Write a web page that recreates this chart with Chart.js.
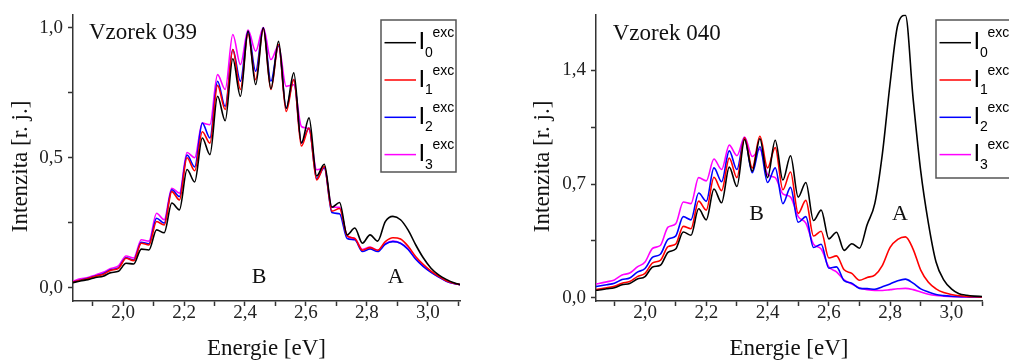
<!DOCTYPE html>
<html>
<head>
<meta charset="utf-8">
<script src="https://cdn.jsdelivr.net/npm/chart.js@4.4.1/dist/chart.umd.min.js"></script>
<style>
  html, body { margin: 0; padding: 0; background: #fff; }
  #wrap { position: relative; width: 1009px; height: 360px; overflow: hidden; }
  .panel { position: absolute; top: 0; height: 360px; }
</style>
</head>
<body>
<div id="wrap">
  <div class="panel" style="left:0;width:505px"><canvas id="c039" width="505" height="360"></canvas></div>
  <div class="panel" style="left:505px;width:504px"><canvas id="c040" width="504" height="360"></canvas></div>
</div>
<script>
// ---- data ----
var seriesNames = ['I0 exc', 'I1 exc', 'I2 exc', 'I3 exc'];
var seriesSub = ['0', '1', '2', '3'];
var seriesColors = ['#000000', '#ff0000', '#0000ff', '#ff00ff'];

// Vzorek 039
var energy039 = [1.835, 1.86, 1.885, 1.91, 1.935, 1.96, 1.985, 2.01, 2.035, 2.06, 2.085, 2.11, 2.135,
  2.16, 2.185, 2.21, 2.235, 2.26, 2.285, 2.31, 2.335, 2.36, 2.385, 2.41, 2.435, 2.46, 2.485,
  2.51, 2.535, 2.56, 2.585, 2.61, 2.635, 2.66, 2.685, 2.71, 2.735, 2.76, 2.785, 2.81, 2.835,
  2.86, 2.885, 2.91, 2.935, 2.96, 2.985, 3.01, 3.035, 3.06, 3.085, 3.11];
var i0_039 = [0.020, 0.027, 0.032, 0.040, 0.045, 0.059, 0.064, 0.095, 0.092, 0.149, 0.146, 0.223, 0.212,
  0.326, 0.300, 0.455, 0.407, 0.576, 0.512, 0.736, 0.642, 0.880, 0.736, 0.986, 0.781, 0.999, 0.765,
  0.947, 0.690, 0.826, 0.557, 0.653, 0.430, 0.475, 0.310, 0.328, 0.204, 0.230, 0.172, 0.204, 0.180,
  0.255, 0.275, 0.262, 0.222, 0.165, 0.115, 0.076, 0.050, 0.033, 0.020, 0.012];
var i1_039 = [0.022, 0.030, 0.036, 0.045, 0.052, 0.068, 0.075, 0.114, 0.105, 0.172, 0.165, 0.255, 0.242,
  0.370, 0.338, 0.500, 0.450, 0.600, 0.556, 0.778, 0.685, 0.915, 0.762, 0.975, 0.800, 0.995, 0.762,
  0.935, 0.678, 0.800, 0.545, 0.614, 0.415, 0.467, 0.295, 0.305, 0.200, 0.190, 0.145, 0.155, 0.145,
  0.178, 0.193, 0.188, 0.160, 0.120, 0.090, 0.065, 0.045, 0.028, 0.018, 0.012];
var i2_039 = [0.022, 0.030, 0.037, 0.046, 0.055, 0.070, 0.077, 0.116, 0.107, 0.175, 0.170, 0.268, 0.249,
  0.377, 0.351, 0.510, 0.465, 0.633, 0.576, 0.794, 0.697, 0.915, 0.794, 0.985, 0.832, 0.998, 0.794,
  0.930, 0.690, 0.800, 0.557, 0.614, 0.420, 0.462, 0.290, 0.285, 0.190, 0.185, 0.140, 0.150, 0.140,
  0.168, 0.178, 0.172, 0.148, 0.110, 0.082, 0.060, 0.042, 0.026, 0.017, 0.012];
var i3_039 = [0.026, 0.035, 0.040, 0.050, 0.060, 0.075, 0.085, 0.123, 0.115, 0.185, 0.180, 0.287, 0.262,
  0.383, 0.364, 0.520, 0.500, 0.633, 0.627, 0.819, 0.762, 0.973, 0.858, 0.990, 0.909, 1.000, 0.877,
  0.930, 0.774, 0.780, 0.620, 0.610, 0.454, 0.460, 0.310, 0.310, 0.200, 0.190, 0.148, 0.157, 0.145,
  0.170, 0.180, 0.172, 0.150, 0.112, 0.085, 0.062, 0.043, 0.027, 0.017, 0.012];

// Vzorek 040
var energy040 = [1.825, 1.85, 1.875, 1.90, 1.925, 1.95, 1.975, 2.00, 2.025, 2.05, 2.075, 2.10, 2.125,
  2.15, 2.175, 2.20, 2.225, 2.25, 2.275, 2.30, 2.325, 2.35, 2.375, 2.40, 2.425, 2.45, 2.475,
  2.50, 2.525, 2.55, 2.575, 2.60, 2.625, 2.65, 2.675, 2.70, 2.725, 2.75, 2.775, 2.80, 2.825,
  2.85, 2.875, 2.90, 2.925, 2.95, 2.975, 3.00, 3.025, 3.05, 3.075, 3.10];
var i0_040 = [0.043, 0.048, 0.055, 0.062, 0.080, 0.088, 0.115, 0.130, 0.190, 0.200, 0.280, 0.300, 0.405,
  0.385, 0.548, 0.480, 0.670, 0.585, 0.805, 0.685, 0.975, 0.780, 0.980, 0.740, 0.970, 0.725, 0.875,
  0.620, 0.710, 0.476, 0.540, 0.363, 0.404, 0.292, 0.333, 0.305, 0.450, 0.580, 0.890, 1.320, 1.680,
  1.740, 1.230, 0.780, 0.460, 0.220, 0.110, 0.055, 0.025, 0.015, 0.010, 0.008];
var i1_040 = [0.048, 0.053, 0.062, 0.070, 0.090, 0.100, 0.130, 0.150, 0.215, 0.230, 0.315, 0.330, 0.440,
  0.425, 0.595, 0.540, 0.742, 0.660, 0.860, 0.740, 0.985, 0.800, 0.995, 0.800, 0.925, 0.665, 0.775,
  0.520, 0.600, 0.380, 0.410, 0.245, 0.258, 0.172, 0.150, 0.108, 0.125, 0.140, 0.200, 0.310, 0.360,
  0.375, 0.300, 0.170, 0.095, 0.055, 0.032, 0.020, 0.012, 0.008, 0.006, 0.005];
var i2_040 = [0.065, 0.072, 0.080, 0.090, 0.112, 0.122, 0.158, 0.180, 0.250, 0.268, 0.360, 0.380, 0.500,
  0.480, 0.645, 0.595, 0.800, 0.715, 0.905, 0.790, 0.985, 0.770, 0.930, 0.710, 0.800, 0.580, 0.680,
  0.465, 0.500, 0.310, 0.330, 0.182, 0.190, 0.105, 0.090, 0.058, 0.056, 0.052, 0.068, 0.085, 0.105,
  0.115, 0.090, 0.055, 0.035, 0.020, 0.013, 0.009, 0.007, 0.006, 0.005, 0.005];
var i3_040 = [0.080, 0.088, 0.098, 0.110, 0.140, 0.152, 0.190, 0.220, 0.305, 0.322, 0.435, 0.455, 0.590,
  0.580, 0.740, 0.720, 0.855, 0.790, 0.940, 0.875, 0.990, 0.870, 0.915, 0.760, 0.740, 0.640, 0.620,
  0.500, 0.460, 0.330, 0.300, 0.190, 0.160, 0.110, 0.085, 0.060, 0.050, 0.045, 0.045, 0.050, 0.055,
  0.058, 0.050, 0.035, 0.022, 0.014, 0.010, 0.007, 0.006, 0.005, 0.005, 0.005];

// ticks
var xTicks = [1.9, 2.0, 2.1, 2.2, 2.3, 2.4, 2.5, 2.6, 2.7, 2.8, 2.9, 3.0, 3.1];
var xTickLabels = ['', '2,0', '', '2,2', '', '2,4', '', '2,6', '', '2,8', '', '3,0', ''];
var yTicks039 = [0, 0.25, 0.5, 0.75, 1.0];
var yTickLabels039 = ['0,0', '', '0,5', '', '1,0'];
var yTicks040 = [0, 0.35, 0.7, 1.05, 1.4];
var yTickLabels040 = ['0,0', '', '0,7', '', '1,4'];

var serif = '"Liberation Serif", "Times New Roman", serif';
var sans = '"Liberation Sans", Arial, sans-serif';

// text inside the plot: sample name, A/B bands and the legend box
var panelText = {
  id: 'panelText',
  afterDatasetsDraw: function (chart, args, o) {
    var ctx = chart.ctx, a = chart.chartArea;
    var xs = chart.scales.x, ys = chart.scales.y;
    ctx.save();
    ctx.fillStyle = '#111';
    ctx.textBaseline = 'middle';
    ctx.textAlign = 'left';
    ctx.font = '23px ' + serif;
    ctx.fillText(o.title, a.left + o.titleDx, a.top + o.titleDy);
    ctx.textAlign = 'center';
    ctx.font = '22px ' + serif;
    o.marks.forEach(function (m) {
      ctx.fillText(m.text, xs.getPixelForValue(m.x), ys.getPixelForValue(m.y));
    });

    var b = o.box;
    ctx.fillStyle = '#fff';
    ctx.fillRect(b.x, b.y, b.w, b.h);
    ctx.strokeStyle = '#555';
    ctx.lineWidth = 1.5;
    ctx.strokeRect(b.x, b.y, b.w, b.h);
    ctx.textAlign = 'left';
    ctx.textBaseline = 'alphabetic';
    chart.data.datasets.forEach(function (ds, i) {
      var ly = b.y + 22.7 + i * 37.3;
      ctx.strokeStyle = ds.borderColor;
      ctx.lineWidth = 1.5;
      ctx.beginPath();
      ctx.moveTo(b.x + 3.5, ly);
      ctx.lineTo(b.x + 35, ly);
      ctx.stroke();
      ctx.fillStyle = '#000';
      ctx.font = '24px ' + sans;
      ctx.fillText('I', b.x + 37.5, ly + 6.6);
      ctx.font = '14px ' + sans;
      ctx.fillText(seriesSub[i], b.x + 44, ly + 14);
      ctx.fillText('exc', b.x + 51.5, ly - 5.4);
    });
    ctx.restore();
  }
};

function makePanel(id, xs, ys, opt) {
  var datasets = ys.map(function (arr, i) {
    return {
      label: seriesNames[i],
      data: xs.map(function (x, j) { return { x: x, y: arr[j] }; }),
      borderColor: seriesColors[i],
      borderWidth: 1.6,
      pointRadius: 0,
      cubicInterpolationMode: 'monotone',
      fill: false
    };
  });
  var axisCol = '#333';
  return new Chart(document.getElementById(id), {
    type: 'line',
    data: { datasets: datasets },
    options: {
      responsive: false,
      animation: false,
      devicePixelRatio: 1,
      layout: { padding: { top: 14, right: opt.padRight, bottom: 0, left: 0 } },
      plugins: {
        legend: { display: false },
        tooltip: { enabled: false },
        panelText: opt.text
      },
      scales: {
        x: {
          type: 'linear',
          min: opt.xMin, max: opt.xMax,
          afterBuildTicks: function (s) { s.ticks = xTicks.map(function (v) { return { value: v }; }); },
          afterFit: function (s) { s.height = 59; },
          grid: { drawOnChartArea: false, drawTicks: true, tickLength: 5, tickWidth: 1.5, tickColor: axisCol },
          border: { display: true, color: axisCol, width: 1.5 },
          ticks: {
            autoSkip: false, maxRotation: 0, padding: -2, color: '#222',
            font: { family: serif, size: 19, lineHeight: 1 },
            callback: function (v, i) { return xTickLabels[i]; }
          },
          title: {
            display: true, text: 'Energie [eV]', color: '#111',
            font: { family: serif, size: 23, lineHeight: 1 }, padding: { top: 0, bottom: 0 }
          }
        },
        y: {
          min: opt.yMin, max: opt.yMax,
          afterBuildTicks: function (s) { s.ticks = opt.yTicks.map(function (v) { return { value: v }; }); },
          afterFit: function (s) { s.width = opt.yWidth; },
          grid: { drawOnChartArea: false, drawTicks: true, tickLength: 5, tickWidth: 1.5, tickColor: axisCol },
          border: { display: true, color: axisCol, width: 1.5 },
          ticks: {
            autoSkip: false, padding: 5, color: '#222',
            font: { family: serif, size: 19, lineHeight: 1 },
            callback: function (v, i) { return opt.yTickLabels[i]; }
          },
          title: {
            display: true, text: 'Intenzita [r. j.]   ', color: '#111',
            font: { family: serif, size: 23, lineHeight: 1 }, padding: { top: opt.yTitlePad, bottom: 0 }
          }
        }
      }
    },
    plugins: [panelText]
  });
}

makePanel('c039', energy039, [i0_039, i1_039, i2_039, i3_039], {
  xMin: 1.836, xMax: 3.105, yMin: -0.05, yMax: 1.05,
  yTicks: yTicks039, yTickLabels: yTickLabels039,
  yWidth: 73, yTitlePad: 9.5, padRight: 45,
  text: {
    title: 'Vzorek 039', titleDx: 16, titleDy: 18,
    marks: [{ text: 'B', x: 2.446, y: 0.043 }, { text: 'A', x: 2.894, y: 0.041 }],
    box: { x: 381, y: 20, w: 75, h: 152 }
  }
});

makePanel('c040', energy040, [i0_040, i1_040, i2_040, i3_040], {
  xMin: 1.84, xMax: 3.10, yMin: -0.02, yMax: 1.745,
  yTicks: yTicks040, yTickLabels: yTickLabels040,
  yWidth: 91, yTitlePad: 26, padRight: 27,
  text: {
    title: 'Vzorek 040', titleDx: 16.7, titleDy: 19,
    marks: [{ text: 'B', x: 2.364, y: 0.517 }, { text: 'A', x: 2.832, y: 0.517 }],
    box: { x: 431, y: 20, w: 76, h: 158 }
  }
});
</script>
</body>
</html>
